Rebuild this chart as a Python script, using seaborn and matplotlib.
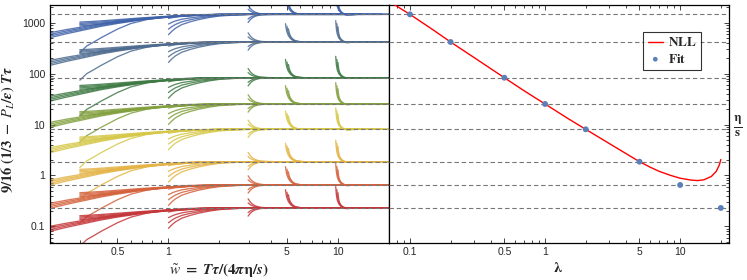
import numpy as np
import pandas as pd
import matplotlib
matplotlib.use("Agg")
import matplotlib.pyplot as plt
import matplotlib.ticker as mticker
import seaborn as sns

# ---------------- data ----------------
lam = [0.1, 0.2, 0.5, 1, 2, 5, 10, 20]
eta_s = [1460, 418, 83, 25.3, 8.05, 1.86, 0.648, 0.229]
group_names = ["0.1", "0.2", "0.5", "1", "2", "5", "10", "20"]
group_colors = ["#3f62a8", "#4d6b8f", "#3f7a45", "#82a03e",
                "#d6c84a", "#e4b447", "#d4623c", "#c4373a"]

# NLL curve (right panel)
nll_lam = [0.07, 0.1, 0.15, 0.2, 0.3, 0.5, 0.7, 1, 1.5, 2, 3, 5, 6, 7, 8.5,
           10, 12, 13.5, 15, 17, 18.5, 19.5, 20]
nll_eta = [2630, 1460, 710, 418, 205, 83, 46, 25.3, 12.8, 8.05, 4.2, 1.86, 1.45,
           1.2, 1.0, 0.88, 0.81, 0.79, 0.82, 0.95, 1.2, 1.6, 2.05]

# curve templates (w~, log10 of ratio to the late-time value)
L_x = [0.2, 0.25, 0.3, 0.4, 0.5, 0.7, 1.0, 1.5, 2.0, 3.0, 20]
L_r = [-0.41, -0.34, -0.29, -0.21, -0.16, -0.095, -0.048, -0.013, -0.003, 0, 0]
L_spread = [0.88, 0.96, 1.04, 1.12]

H_x = [0.3, 0.35, 0.4, 0.5, 0.7, 1.0, 1.5, 2.0, 3.0, 14]
H_r = [-0.19, -0.175, -0.16, -0.13, -0.085, -0.045, -0.012, -0.002, 0, 0]
H_spread = [0.8, 0.93, 1.06, 1.2]

Low_x = [0.3, 0.33, 0.36, 0.4, 0.5, 0.6, 0.75, 1.0, 1.3, 2.0, 12]
Low_r = [-0.75, -0.62, -0.55, -0.46, -0.29, -0.18, -0.10, -0.04, -0.01, 0, 0]

W1_start = [1.0, 1.0, 1.0, 1.0]
W1_r0 = [-0.08, -0.19, -0.29, -0.40]
W1_mult = [1.0, 1.05, 1.1, 1.2, 1.35, 1.5, 1.75, 2.0, 2.5, 3.0]
W1_f = [1.0, 0.82, 0.68, 0.5, 0.36, 0.26, 0.15, 0.08, 0.03, 0]
W1_end = 18

W3_start = [2.95, 2.95, 2.95, 2.95]
W3_r0 = [0.18, 0.10, -0.09, -0.16]
W3_mult = [1.0, 1.03, 1.06, 1.1, 1.15, 1.2, 1.3, 1.45]
W3_f = [1.0, 0.65, 0.42, 0.24, 0.12, 0.06, 0.02, 0]
W3_end = 12.5

W5_start = [4.9, 5.0, 5.1]
W5_r0 = [0.36, 0.31, 0.26]
W5_mult = [1.0, 1.01, 1.02, 1.04, 1.07, 1.1, 1.15, 1.25]
W5_f = [1.0, 0.72, 0.55, 0.35, 0.19, 0.1, 0.04, 0]
W5_end = 13

W10_start = [9.7, 9.85, 10.0]
W10_r0 = [0.42, 0.36, 0.30]
W10_mult = [1.0, 1.005, 1.01, 1.02, 1.04, 1.07, 1.1, 1.15, 1.3]
W10_f = [1.0, 0.75, 0.58, 0.38, 0.2, 0.08, 0.02, -0.03, 0]
W10_end = 12.5

# ---------------- build the table of curves ----------------
rows = []
cid = 0
for g, (A, name) in enumerate(zip(eta_s, group_names)):
    def add(xs, rs):
        global cid
        for x, r in zip(xs, rs):
            rows.append(dict(w=x, v=A * 10 ** r, group=name, curve=cid))
        cid += 1
    for s in L_spread:
        add(L_x, [r * s for r in L_r])
    for s in H_spread:
        add(H_x, [r * s for r in H_r])
    add(Low_x, Low_r)
    for starts, r0s, mult, f, end in [
        (W1_start, W1_r0, W1_mult, W1_f, W1_end),
        (W3_start, W3_r0, W3_mult, W3_f, W3_end),
        (W5_start, W5_r0, W5_mult, W5_f, W5_end),
        (W10_start, W10_r0, W10_mult, W10_f, W10_end)]:
        for w0, r0 in zip(starts, r0s):
            xs = [w0 * m for m in mult] + [end]
            rs = [r0 * ff for ff in f] + [0]
            add(xs, rs)
df = pd.DataFrame(rows)
fit_df = pd.DataFrame(dict(lam=lam, eta=eta_s))
nll_df = pd.DataFrame(dict(lam=nll_lam, eta=nll_eta))

# ---------------- figure ----------------
sns.set_style("ticks")
plt.rcParams["font.family"] = ["Liberation Sans", "DejaVu Sans"]
plt.rcParams["mathtext.fontset"] = "stix"

W, H = 747, 280
fig = plt.figure(figsize=(W / 100, H / 100), dpi=100)
ax1 = fig.add_axes([50 / W, 37.5 / H, 339 / W, 237.5 / H])
ax2 = fig.add_axes([389 / W, 37.5 / H, 339.5 / W, 237.5 / H])

ylim = (0.048, 2230)
for ax in (ax1, ax2):
    ax.set_xscale("log")
    ax.set_yscale("log")
    ax.set_ylim(*ylim)

ax1.set_xlim(0.2, 20)
ax2.set_xlim(0.07, 22.8)

pal = dict(zip(group_names, group_colors))
sns.lineplot(data=df, x="w", y="v", hue="group", units="curve", estimator=None,
             sort=False, palette=pal, lw=0.95, alpha=0.85, legend=False, ax=ax1)

for A in eta_s:
    for ax in (ax1, ax2):
        ax.axhline(A, color="#777777", lw=0.8, ls=(0, (4, 2.5)), zorder=3)

sns.lineplot(data=nll_df, x="lam", y="eta", color="#ff0000", lw=1.0, sort=False,
             estimator=None, ax=ax2, label=r"$\mathbf{NLL}$", zorder=4)
sns.scatterplot(data=fit_df, x="lam", y="eta", color="#5b7fb8", s=18,
                edgecolor="none", ax=ax2, label=r"$\mathbf{Fit}$", zorder=5)

# ticks
major_y = [0.1, 1, 10, 100, 1000]
for ax in (ax1, ax2):
    ax.yaxis.set_major_locator(mticker.FixedLocator(major_y))
    ax.yaxis.set_minor_locator(mticker.LogLocator(base=10, subs=np.arange(2, 10)))
    ax.yaxis.set_minor_formatter(mticker.NullFormatter())
    ax.xaxis.set_minor_locator(mticker.LogLocator(base=10, subs=np.arange(1, 10)))
    ax.xaxis.set_minor_formatter(mticker.NullFormatter())
    ax.tick_params(which="both", direction="in", top=True, labelsize=7.5,
                   width=0.6, pad=3.5)
    ax.tick_params(which="major", length=3.5)
    ax.tick_params(which="minor", length=2)
    for sp in ax.spines.values():
        sp.set_linewidth(0.9)
        sp.set_color("black")
    ax.set_xlabel("")
    ax.set_ylabel("")

ax1.xaxis.set_major_locator(mticker.FixedLocator([0.5, 1, 5, 10]))
ax1.xaxis.set_major_formatter(mticker.FixedFormatter(["0.5", "1", "5", "10"]))
ax1.yaxis.set_major_formatter(mticker.FixedFormatter(["0.1", "1", "10", "100", "1000"]))
ax1.tick_params(which="both", right=False, left=True)

ax2.xaxis.set_major_locator(mticker.FixedLocator([0.1, 0.5, 1, 5, 10]))
ax2.xaxis.set_major_formatter(mticker.FixedFormatter(["0.1", "0.5", "1", "5", "10"]))
ax2.tick_params(which="both", left=False, right=True, labelleft=False)

# labels
fig.text(8 / W, 1 - 129 / H,
         r"$\mathbf{9/16\ (1/3\ -\ }\boldsymbol{P_L/\epsilon}\mathbf{)\ }\boldsymbol{T\tau}$",
         rotation=90, ha="center", va="center", fontsize=10.5)
fig.text(219 / W, 1 - 270 / H,
         r"$\boldsymbol{\tilde{w}}\mathbf{\ =\ }\boldsymbol{T\tau}\mathbf{/(4}\boldsymbol{\pi}\mathbf{\eta/}\boldsymbol{s}\mathbf{)}$",
         ha="center", va="center", fontsize=11)
fig.text(558 / W, 1 - 268 / H, r"$\boldsymbol{\lambda}$", ha="center", va="center", fontsize=11)
fig.text(738 / W, 1 - 126 / H, r"$\mathbf{\frac{\eta}{s}}$", ha="center", va="center", fontsize=13)

leg = ax2.legend(loc="upper left", bbox_to_anchor=(0.73, 0.915), frameon=True,
                 fancybox=False, edgecolor="black", fontsize=9.5, handlelength=1.1,
                 handletextpad=0.4, borderpad=0.35, labelspacing=0.25, markerscale=0.8)
leg.get_frame().set_linewidth(0.8)

fig.savefig("out.png", dpi=100)
